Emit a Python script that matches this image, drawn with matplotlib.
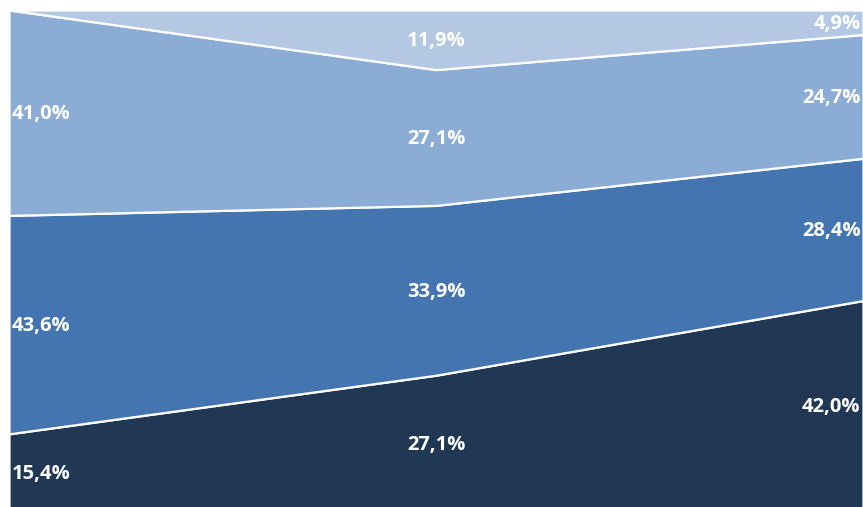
import numpy as np
import matplotlib.pyplot as plt

x = [0, 1, 2]
dark = [15.4, 27.1, 42.0]
medium = [43.6, 33.9, 28.4]
light = [41.0, 27.1, 24.7]
lightest = [0.0, 11.9, 4.9]
labels = ['15,4%', '27,1%', '42,0%',
          '43,6%', '33,9%', '28,4%',
          '41,0%', '27,1%', '24,7%',
          '', '11,9%', '4,9%']

colors = ['#213855', '#4475B0', '#8BACD4', '#B4C8E4']
series = [dark, medium, light, lightest]

fig = plt.figure(figsize=(8.63, 5.07), dpi=100)
# plot area runs slightly past the bottom edge of the image
ax = fig.add_axes([9 / 863, -4 / 507, 854 / 863, 501 / 507])

ax.stackplot(x, *series, colors=colors, edgecolor='white', linewidth=1.6)
ax.set_xlim(0, 2)
ax.set_ylim(0, 100)
ax.axis('off')

base = np.zeros(3)
for i, s in enumerate(series):
    s = np.array(s)
    mid = base + s / 2 - 0.3
    for j in range(3):
        txt = labels[i * 3 + j]
        if not txt:
            continue
        ha = ['left', 'center', 'right'][j]
        xo = [0.006, 0, -0.006][j]
        ax.text(x[j] + xo, mid[j], txt, ha=ha, va='center', color='white',
                fontsize=14.5, fontweight='bold', family='Open Sans')
    base = base + s

fig.savefig('out.png', dpi=100)
